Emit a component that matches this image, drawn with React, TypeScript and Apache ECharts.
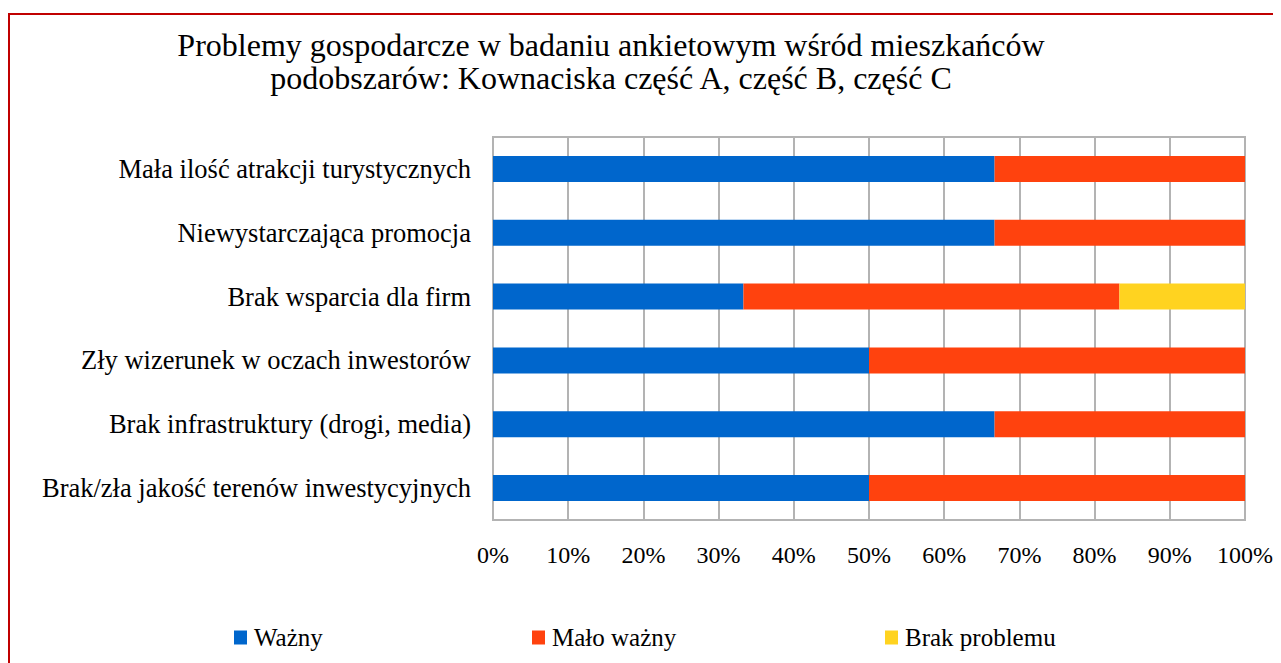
import React, { useEffect, useRef } from "react";
import * as echarts from "echarts";

const categories = [
  "Brak/zła jakość terenów inwestycyjnych",
  "Brak infrastruktury (drogi, media)",
  "Zły wizerunek w oczach inwestorów",
  "Brak wsparcia dla firm",
  "Niewystarczająca promocja",
  "Mała ilość atrakcji turystycznych",
];
const seriesNames = ["Ważny", "Mało ważny", "Brak problemu"];
const wazny = [50, 66.7, 50, 33.3, 66.7, 66.7];
const maloWazny = [50, 33.3, 50, 50, 33.3, 33.3];
const brakProblemu = [0, 0, 0, 16.7, 0, 0];
const colors = ["#0066CC", "#FF420E", "#FFD320"];
const titleText =
  "Problemy gospodarcze w badaniu ankietowym wśród mieszkańców\npodobszarów: Kownaciska część A, część B, część C";

const FONT = "'Liberation Serif', 'Times New Roman', serif";

export default function App() {
  const ref = useRef<HTMLDivElement>(null);
  useEffect(() => {
    if (!ref.current) return;
    const chart = echarts.init(ref.current, undefined, { renderer: "svg" });
    const data = [wazny, maloWazny, brakProblemu];
    const legendLefts = [226, 524, 877];
    chart.setOption({
      animation: false,
      title: {
        text: titleText,
        left: 598,
        top: 15,
        textAlign: "center",
        textStyle: {
          fontFamily: FONT,
          fontSize: 32,
          fontWeight: "normal",
          color: "#000",
          lineHeight: 33,
        },
      },
      legend: seriesNames.map((n, i) => ({
        data: [n],
        left: legendLefts[i],
        top: 617,
        padding: 0,
        itemWidth: 13,
        itemHeight: 14,
        itemGap: 0,
        icon: "rect",
        textStyle: { fontFamily: FONT, fontSize: 25, color: "#000", padding: [0, 0, 0, 2] },
      })),
      grid: {
        left: 485,
        right: 36,
        top: 129,
        bottom: 143,
        show: true,
        borderColor: "#B3B3B3",
        borderWidth: 2,
        containLabel: false,
      },
      xAxis: {
        type: "value",
        min: 0,
        max: 100,
        interval: 10,
        axisLine: { show: false },
        axisTick: { show: false },
        splitLine: { lineStyle: { color: "#B3B3B3", width: 2 } },
        axisLabel: {
          formatter: "{value}%",
          fontFamily: FONT,
          fontSize: 24,
          color: "#000",
          margin: 23,
        },
      },
      yAxis: {
        type: "category",
        data: categories,
        axisLine: { show: true, lineStyle: { color: "#B3B3B3", width: 2 } },
        axisTick: { show: false },
        axisLabel: {
          fontFamily: FONT,
          fontSize: 26.5,
          color: "#000",
          margin: 22,
        },
      },
      series: seriesNames.map((n, i) => ({
        name: n,
        type: "bar",
        stack: "total",
        barWidth: 26,
        itemStyle: { color: colors[i] },
        data: data[i],
      })),
    });
    return () => chart.dispose();
  }, []);
  return (
    <div style={{ position: "relative", width: 1273, height: 655 }}>
      <div
        style={{
          position: "absolute",
          left: 0,
          top: 5,
          width: 1273,
          height: 650,
          borderTop: "2px solid #C00000",
          borderLeft: "2px solid #C00000",
          boxSizing: "border-box",
        }}
      />
      <div ref={ref} style={{ position: "absolute", left: 0, top: 0, width: 1273, height: 655 }} />
    </div>
  );
}
